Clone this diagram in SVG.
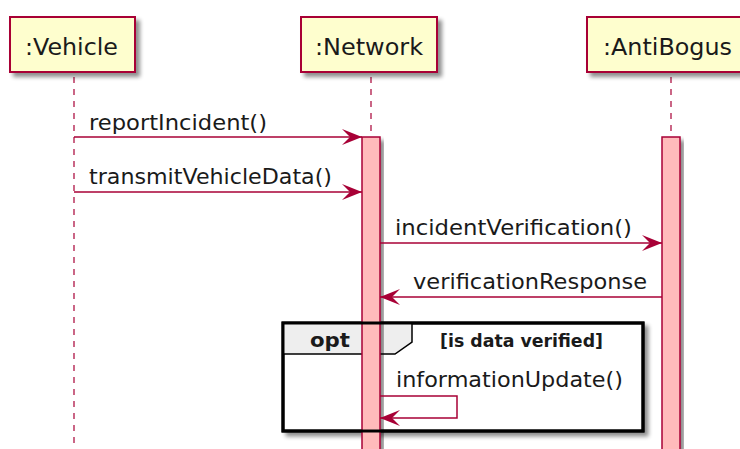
<svg xmlns="http://www.w3.org/2000/svg" width="740" height="449" viewBox="0 0 740 449">
  <defs>
    <filter id="shadow" x="-10%" y="-10%" width="130%" height="140%">
      <feGaussianBlur in="SourceAlpha" stdDeviation="2"/>
      <feOffset dx="4" dy="4" result="off"/>
      <feComponentTransfer in="off" result="soft">
        <feFuncA type="linear" slope="0.45"/>
      </feComponentTransfer>
      <feMerge>
        <feMergeNode in="soft"/>
        <feMergeNode in="SourceGraphic"/>
      </feMerge>
    </filter>
    <marker id="head" viewBox="0 0 20 16" refX="20" refY="8" markerWidth="20" markerHeight="16" markerUnits="userSpaceOnUse" orient="auto">
      <polygon points="0,0 20,8 0,16 8,8" fill="#A80036"/>
    </marker>
  </defs>
  <style>
    .box { fill: #FEFECE; stroke: #A80036; stroke-width: 2; }
    .plabel { font-family: "DejaVu Sans", sans-serif; font-size: 23px; fill: #1a1a1a; }
    .life { stroke: #A80036; stroke-width: 1.2; stroke-dasharray: 6 6; fill: none; }
    .act { fill: #FFBBBB; stroke: #A80036; stroke-width: 1.5; }
    .msg { stroke: #A80036; stroke-width: 1.5; fill: none; marker-end: url(#head); }
    .mlabel { font-family: "DejaVu Sans", sans-serif; font-size: 21px; fill: #1a1a1a; }
    .frame { fill: none; stroke: #000; stroke-width: 3; }
    .tab { fill: #EEEEEE; stroke: #000; stroke-width: 1.5; }
    .bold { font-family: "DejaVu Sans", sans-serif; font-weight: bold; fill: #1a1a1a; }
  </style>

  <rect width="740" height="449" fill="#fff"/>

  <!-- lifelines -->
  <g id="lifelines">
    <line class="life" x1="74" y1="77" x2="74" y2="449"/>
    <line class="life" x1="371" y1="77" x2="371" y2="449"/>
    <line class="life" x1="671" y1="77" x2="671" y2="449"/>
  </g>

  <!-- participants -->
  <g id="vehicle">
    <rect class="box" x="10" y="17" width="125" height="55" filter="url(#shadow)"/>
    <text class="plabel" x="25" y="55" textLength="93" lengthAdjust="spacingAndGlyphs">:Vehicle</text>
  </g>
  <g id="network">
    <rect class="box" x="301" y="17" width="136" height="55" filter="url(#shadow)"/>
    <text class="plabel" x="315" y="55" textLength="108" lengthAdjust="spacingAndGlyphs">:Network</text>
  </g>
  <g id="antibogus">
    <rect class="box" x="587" y="17" width="170" height="55" filter="url(#shadow)"/>
    <text class="plabel" x="603" y="55" textLength="129" lengthAdjust="spacingAndGlyphs">:AntiBogus</text>
  </g>

  <!-- opt fragment background -->
  <g id="opt-back">
    <rect x="283" y="323" width="360" height="108" fill="#fff" stroke="#000" stroke-width="3" filter="url(#shadow)"/>
    <path class="tab" d="M283,323 H412 V342 L395,354 H283 Z"/>
  </g>

  <!-- activation bars -->
  <g id="activations">
    <rect class="act" x="362" y="137" width="18" height="320" filter="url(#shadow)"/>
    <rect class="act" x="662" y="137" width="18" height="320" filter="url(#shadow)"/>
  </g>

  <!-- opt fragment border and labels -->
  <g id="opt">
    <rect class="frame" x="283" y="323" width="360" height="108"/>
    <text class="bold" x="310" y="347" font-size="20" textLength="40" lengthAdjust="spacingAndGlyphs">opt</text>
    <text class="bold" x="440" y="347" font-size="17" textLength="163" lengthAdjust="spacingAndGlyphs">[is data verified]</text>
  </g>

  <!-- messages -->
  <g id="connectors">
    <line class="msg" x1="74" y1="137" x2="362" y2="137"/>
    <line class="msg" x1="74" y1="192" x2="362" y2="192"/>
    <line class="msg" x1="380" y1="243" x2="662" y2="243"/>
    <line class="msg" x1="662" y1="297" x2="380" y2="297"/>
    <polyline class="msg" points="380,396 457,396 457,418 380,418"/>
  </g>
  <g id="message-labels">
    <text class="mlabel" x="89" y="130" textLength="178" lengthAdjust="spacingAndGlyphs">reportIncident()</text>
    <text class="mlabel" x="89" y="184" textLength="243" lengthAdjust="spacingAndGlyphs">transmitVehicleData()</text>
    <text class="mlabel" x="395" y="235" textLength="237" lengthAdjust="spacingAndGlyphs">incidentVerification()</text>
    <text class="mlabel" x="413" y="289" textLength="234" lengthAdjust="spacingAndGlyphs">verificationResponse</text>
    <text class="mlabel" x="396" y="387" textLength="227" lengthAdjust="spacingAndGlyphs">informationUpdate()</text>
  </g>
</svg>
